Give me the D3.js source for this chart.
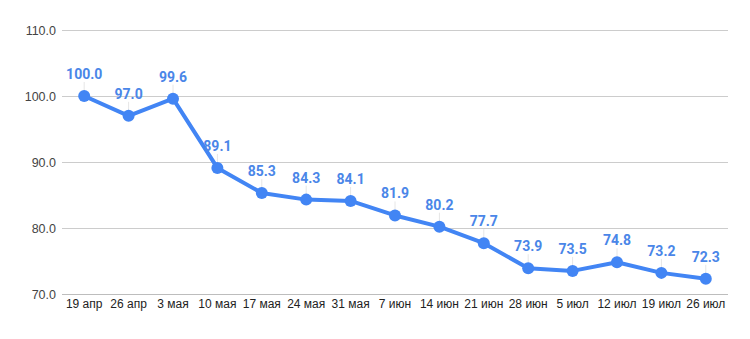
<!DOCTYPE html>
<html>
<head>
<meta charset="utf-8">
<script src="https://cdn.jsdelivr.net/npm/d3@7"></script>
<style>
  html, body { margin: 0; padding: 0; background: #fff; }
  svg { display: block; font-family: "Liberation Sans", Arial, sans-serif; }
</style>
</head>
<body>
<svg id="chart" width="750" height="339"></svg>
<script>
// Weekly index values
const categories = ["19 апр", "26 апр", "3 мая", "10 мая", "17 мая", "24 мая", "31 мая",
  "7 июн", "14 июн", "21 июн", "28 июн", "5 июл", "12 июл", "19 июл", "26 июл"];
const values = [100.0, 97.0, 99.6, 89.1, 85.3, 84.3, 84.1, 81.9, 80.2, 77.7, 73.9, 73.5, 74.8, 73.2, 72.3];
const yTicks = [70, 80, 90, 100, 110];

const svg = d3.select("#chart");
const plotLeft = 62, plotRight = 728, plotTop = 30, plotBottom = 294;

const x = d3.scaleBand().domain(categories).range([plotLeft, plotRight]);
const cx = d => x(d) + x.bandwidth() / 2;
const y = d3.scaleLinear().domain([70, 110]).range([plotBottom, plotTop]);

// Horizontal gridlines
svg.append("g")
  .selectAll("line")
  .data(yTicks)
  .join("line")
  .attr("x1", plotLeft).attr("x2", plotRight)
  .attr("y1", d => y(d)).attr("y2", d => y(d))
  .attr("stroke", d => d === 70 ? "#bdbdbd" : "#cccccc")
  .attr("stroke-width", 1)
  .attr("shape-rendering", "crispEdges");

// Y axis labels
const yAxis = d3.axisLeft(y).tickValues(yTicks).tickFormat(d3.format(".1f")).tickSize(0).tickPadding(6);
svg.append("g")
  .attr("transform", `translate(${plotLeft},0)`)
  .call(yAxis)
  .call(g => g.select(".domain").remove())
  .call(g => g.selectAll("text")
    .attr("font-size", 12.5)
    .attr("font-family", "'Liberation Sans', Arial, sans-serif")
    .attr("fill", "#444"));

// X axis labels
const xAxis = d3.axisBottom(x).tickSize(0).tickPadding(5);
svg.append("g")
  .attr("transform", `translate(0,${plotBottom})`)
  .call(xAxis)
  .call(g => g.select(".domain").remove())
  .call(g => g.selectAll("text")
    .attr("font-size", 12)
    .attr("font-family", "'Liberation Sans', Arial, sans-serif")
    .attr("fill", "#222"));

const pts = categories.map((c, i) => ({ c, v: values[i] }));

// Faint leader lines from labels down to points
svg.append("g")
  .selectAll("line")
  .data(pts)
  .join("line")
  .attr("x1", d => cx(d.c)).attr("x2", d => cx(d.c))
  .attr("y1", d => y(d.v) - 14).attr("y2", d => y(d.v))
  .attr("stroke", "#e6e6e6")
  .attr("stroke-width", 1);

// Series line
const line = d3.line().x(d => cx(d.c)).y(d => y(d.v));
svg.append("path")
  .datum(pts)
  .attr("d", line)
  .attr("fill", "none")
  .attr("stroke", "#4285f4")
  .attr("stroke-width", 4)
  .attr("stroke-linejoin", "round");

// Points
svg.append("g")
  .selectAll("circle")
  .data(pts)
  .join("circle")
  .attr("cx", d => cx(d.c))
  .attr("cy", d => y(d.v))
  .attr("r", 6)
  .attr("fill", "#4285f4");

// Value labels
svg.append("g")
  .selectAll("text")
  .data(pts)
  .join("text")
  .attr("x", d => cx(d.c))
  .attr("y", d => y(d.v) - 17)
  .attr("text-anchor", "middle")
  .attr("font-size", 14)
  .attr("font-weight", "bold")
  .attr("font-family", "Roboto, 'Liberation Sans', Arial, sans-serif")
  .attr("fill", "#4a86e8")
  .text(d => d.v.toFixed(1));
</script>
</body>
</html>
